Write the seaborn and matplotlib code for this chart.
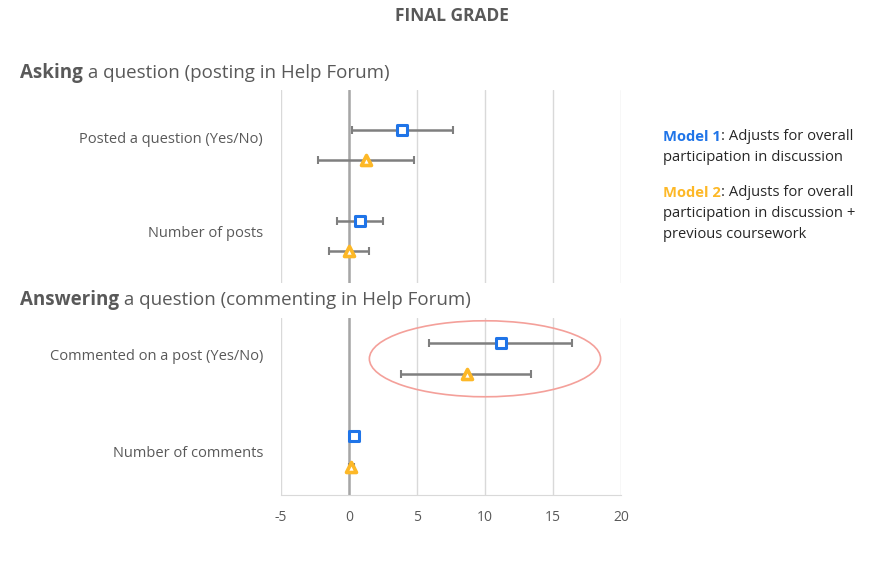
import matplotlib
matplotlib.use('Agg')
import matplotlib.pyplot as plt
from matplotlib.patches import Ellipse
import pandas as pd
import seaborn as sns

# ------------------------------------------------------------
# Data (coefficients and 95% CI)
# ------------------------------------------------------------
ASK_LABELS = ['Posted a question (Yes/No)', 'Number of posts']
ASK_M1 = [3.9, 0.8]
ASK_M1_LO = [0.25, -0.85]
ASK_M1_HI = [7.65, 2.5]
ASK_M2 = [1.25, 0.0]
ASK_M2_LO = [-2.3, -1.5]
ASK_M2_HI = [4.75, 1.45]

ANS_LABELS = ['Commented on a post (Yes/No)', 'Number of comments']
ANS_M1 = [11.2, 0.4]
ANS_M1_LO = [5.9, 0.4]
ANS_M1_HI = [16.4, 0.4]
ANS_M2 = [8.65, 0.15]
ANS_M2_LO = [3.85, 0.0]
ANS_M2_HI = [13.4, 0.35]

X_TICKS = [-5, 0, 5, 10, 15, 20]

BLUE = '#1F74E8'
GOLD = '#FDB827'
GREY_TXT = '#595959'
BAR_GREY = '#7F7F7F'
OFFSET = 0.165

sns.set_style('white')
plt.rcParams['font.family'] = ['Open Sans', 'DejaVu Sans']

fig = plt.figure(figsize=(8.75, 5.7), dpi=100)
ax_top = fig.add_axes([0.3211, 0.5035, 0.3886, 0.3386])
ax_bot = fig.add_axes([0.3211, 0.1316, 0.3886, 0.3105])


def build_frame(labels, m1, m1_lo, m1_hi, m2, m2_lo, m2_hi):
    rows = []
    for i, lab in enumerate(labels):
        rows.append(dict(label=lab, pos=i - OFFSET, model='Model 1',
                         est=m1[i], lo=m1_lo[i], hi=m1_hi[i]))
        rows.append(dict(label=lab, pos=i + OFFSET, model='Model 2',
                         est=m2[i], lo=m2_lo[i], hi=m2_hi[i]))
    return pd.DataFrame(rows)


def draw_panel(ax, df, labels, ylim, label_pos, show_x):
    ax.set_xlim(-5, 20)
    ax.set_ylim(*ylim)
    for xt in X_TICKS:
        ax.axvline(xt, color='#D9D9D9', lw=1, zorder=0)
    ax.axvline(0, color='#A6A6A6', lw=1.8, zorder=1)

    ax.errorbar(df['est'], df['pos'],
                xerr=[df['est'] - df['lo'], df['hi'] - df['est']],
                fmt='none', ecolor=BAR_GREY, elinewidth=1.8,
                capsize=3, capthick=1.5, zorder=2)

    m1 = df[df['model'] == 'Model 1']
    m2 = df[df['model'] == 'Model 2']
    sns.scatterplot(data=m1, x='est', y='pos', ax=ax, marker='s', s=55,
                    color='white', edgecolor=BLUE, linewidth=2.2, zorder=3,
                    legend=False)
    sns.scatterplot(data=m2, x='est', y='pos', ax=ax, marker='^', s=52,
                    color='white', edgecolor=GOLD, linewidth=2.6, zorder=3,
                    legend=False)

    ax.set_yticks(label_pos)
    ax.set_yticklabels(labels, fontsize=10.5, color=GREY_TXT)
    ax.tick_params(axis='y', length=0, pad=13)
    ax.set_xlabel('')
    ax.set_ylabel('')
    for side in ['top', 'right', 'left', 'bottom']:
        ax.spines[side].set_visible(False)
    if show_x:
        ax.spines['bottom'].set_visible(True)
        ax.spines['bottom'].set_color('#D9D9D9')
        ax.set_xticks(X_TICKS)
        ax.set_xticklabels([str(t) for t in X_TICKS], fontsize=10, color=GREY_TXT)
        ax.tick_params(axis='x', length=0, pad=11)
    else:
        ax.set_xticks([])


ask_df = build_frame(ASK_LABELS, ASK_M1, ASK_M1_LO, ASK_M1_HI, ASK_M2, ASK_M2_LO, ASK_M2_HI)
ans_df = build_frame(ANS_LABELS, ANS_M1, ANS_M1_LO, ANS_M1_HI, ANS_M2, ANS_M2_LO, ANS_M2_HI)

draw_panel(ax_top, ask_df, ASK_LABELS, (1.51, -0.6), [-0.08, 0.95], show_x=False)
draw_panel(ax_bot, ans_df, ANS_LABELS, (1.47, -0.44), [-0.045, 1.0], show_x=True)

# highlight around the commenting effect
ax_bot.add_patch(Ellipse((10, 0.0), 17.0, 0.82, fill=False,
                         edgecolor='#F4A09A', lw=1.2, zorder=4, clip_on=False))

fig.canvas.draw()


def bold_then_plain(x, y, bold_word, rest, size, bold_color, rest_color):
    a = fig.text(x, y, bold_word, ha='left', va='center', fontsize=size,
                 fontweight='bold', color=bold_color)
    bb = a.get_window_extent(renderer=fig.canvas.get_renderer())
    fig.text(bb.x1 / fig.bbox.width, y, rest, ha='left', va='center',
             fontsize=size, color=rest_color)


# titles
fig.text(0.516, 0.972, 'FINAL GRADE', ha='center', va='center',
         fontsize=12.5, fontweight='bold', color=GREY_TXT)
bold_then_plain(0.023, 0.872, 'Asking', ' a question (posting in Help Forum)',
                13.5, GREY_TXT, GREY_TXT)
bold_then_plain(0.023, 0.474, 'Answering', ' a question (commenting in Help Forum)',
                13.5, GREY_TXT, GREY_TXT)

# legend text block
lx = 0.758
fs = 10.6
bold_then_plain(lx, 0.760, 'Model 1', ': Adjusts for overall', fs, BLUE, '#262626')
fig.text(lx, 0.723, 'participation in discussion', fontsize=fs,
         color='#262626', ha='left', va='center')
bold_then_plain(lx, 0.662, 'Model 2', ': Adjusts for overall', fs, GOLD, '#262626')
fig.text(lx, 0.625, 'participation in discussion +', fontsize=fs,
         color='#262626', ha='left', va='center')
fig.text(lx, 0.588, 'previous coursework', fontsize=fs,
         color='#262626', ha='left', va='center')

fig.savefig('out.png', dpi=100, facecolor='white')
